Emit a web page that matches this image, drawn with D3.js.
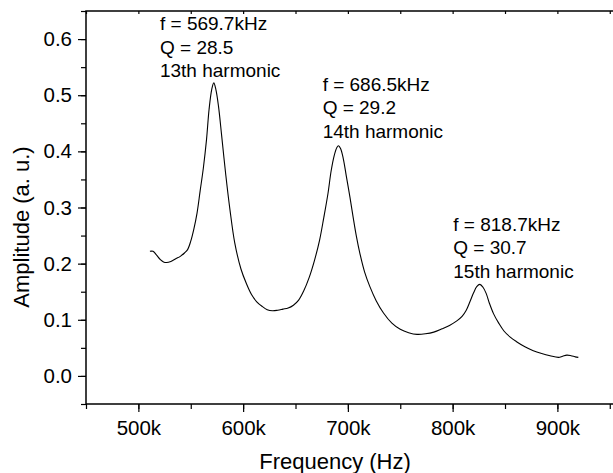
<!DOCTYPE html>
<html>
<head>
<meta charset="utf-8">
<script src="https://cdn.jsdelivr.net/npm/d3@7"></script>
<style>
  body { margin: 0; background: #fff; }
  svg text { font-family: Arial, "Liberation Sans", sans-serif; fill: #000; }
</style>
</head>
<body>
<div class="chart"></div>
<script>
/* Resonance spectrum: amplitude vs frequency, three harmonics. */

// frequency in kHz, amplitude in a.u.
var freq = [511, 514, 517, 521, 524, 527, 531, 536, 540, 544, 547, 550, 553, 556, 559, 562, 565, 567.5, 570, 572,
  574, 576.5, 579.5, 583.5, 587.5, 592, 598, 603, 608, 613, 618, 623, 628, 633, 638, 643, 648, 653, 658, 663,
  668, 673, 677, 681, 684, 687, 689.5, 691, 693, 695.5, 698.5, 702, 705, 708, 711.5, 716, 721, 727, 734, 742,
  750, 758, 766, 774, 782, 790, 797, 804, 809, 813, 816.5, 820, 823, 826, 829, 832, 835, 839, 844, 849,
  855, 861, 869, 877, 885, 893, 901, 905, 909, 913, 917, 920];
var amp = [0.222, 0.222, 0.216, 0.207, 0.203, 0.202, 0.204, 0.209, 0.213, 0.219, 0.225, 0.240, 0.262, 0.290, 0.330, 0.370, 0.420, 0.475, 0.510, 0.522,
  0.510, 0.480, 0.428, 0.357, 0.295, 0.237, 0.190, 0.165, 0.145, 0.132, 0.124, 0.118, 0.116, 0.117, 0.119, 0.121, 0.126, 0.135, 0.152, 0.175,
  0.205, 0.242, 0.282, 0.325, 0.365, 0.393, 0.407, 0.410, 0.405, 0.388, 0.356, 0.318, 0.283, 0.250, 0.218, 0.185, 0.159, 0.134, 0.112, 0.094,
  0.083, 0.077, 0.074, 0.075, 0.078, 0.084, 0.090, 0.098, 0.106, 0.117, 0.132, 0.148, 0.159, 0.163, 0.158, 0.147, 0.130, 0.111, 0.094, 0.080,
  0.069, 0.061, 0.052, 0.045, 0.040, 0.036, 0.033, 0.035, 0.037, 0.036, 0.034, 0.033];

var xTicks = [500, 600, 700, 800, 900];
var xTickLabels = ["500k", "600k", "700k", "800k", "900k"];
var yTicks = [0.0, 0.1, 0.2, 0.3, 0.4, 0.5, 0.6];

// annotation text blocks, anchored at (kHz, amplitude) of the first line
var noteFreq = [520.6, 675.9, 800.6];
var noteAmp = [0.616, 0.508, 0.259];
var noteLines = [
  ["f = 569.7kHz", "Q = 28.5", "13th harmonic"],
  ["f = 686.5kHz", "Q = 29.2", "14th harmonic"],
  ["f = 818.7kHz", "Q = 30.7", "15th harmonic"]
];

drawChart();

function drawChart() {

  var width = 613, height = 473;
  var left = 86, right = 615, top = 11, bottom = 404;

  var svg = d3.select(".chart")
      .append("svg")
      .attr("width", width)
      .attr("height", height);

  var x = d3.scaleLinear().domain([450, 955]).range([left, right]);
  var y = d3.scaleLinear().domain([-0.05, 0.65]).range([bottom, top]);

  var minorX = d3.range(450, 956, 50);
  var minorY = d3.range(-0.05, 0.651, 0.05);

  // bottom axis
  svg.append("g")
    .attr("transform", "translate(0," + bottom + ")")
    .call(d3.axisBottom(x).tickValues(minorX).tickSize(5).tickFormat(""))
    .call(g => g.select(".domain").remove());
  svg.append("g")
    .attr("class", "xaxis")
    .attr("transform", "translate(0," + bottom + ")")
    .call(d3.axisBottom(x).tickValues(xTicks).tickSize(8).tickPadding(8)
      .tickFormat((d, i) => xTickLabels[i]))
    .call(g => g.select(".domain").remove());

  // left axis
  svg.append("g")
    .attr("transform", "translate(" + left + ",0)")
    .call(d3.axisLeft(y).tickValues(minorY).tickSize(5).tickFormat(""))
    .call(g => g.select(".domain").remove());
  svg.append("g")
    .attr("class", "yaxis")
    .attr("transform", "translate(" + left + ",0)")
    .call(d3.axisLeft(y).tickValues(yTicks).tickSize(8).tickPadding(6).tickFormat(d3.format(".1f")))
    .call(g => g.select(".domain").remove());

  // top axis, small inward ticks
  svg.append("g")
    .attr("transform", "translate(0," + top + ")")
    .call(d3.axisBottom(x).tickValues(minorX).tickSize(3).tickFormat(""))
    .call(g => g.select(".domain").remove());

  svg.selectAll(".xaxis text, .yaxis text")
    .style("font-size", "20.5px")
    .style("font-family", "Arial, 'Liberation Sans', sans-serif");
  svg.selectAll(".tick line").attr("stroke", "#000").attr("stroke-width", 1.2);

  // frame lines
  svg.append("path")
    .attr("d", "M" + right + "," + top + "H" + left + "V" + bottom + "H" + right)
    .attr("fill", "none")
    .attr("stroke", "#000")
    .attr("stroke-width", 1.5);

  // curve
  var pts = freq.map((f, i) => [f, amp[i]]);
  var line = d3.line()
    .x(d => x(d[0]))
    .y(d => y(d[1]))
    .curve(d3.curveCatmullRom.alpha(0.5));

  svg.append("path")
    .datum(pts)
    .attr("d", line)
    .attr("fill", "none")
    .attr("stroke", "#000")
    .attr("stroke-width", 1.1);

  // annotations
  noteLines.forEach(function (lines, k) {
    var t = svg.append("text")
      .attr("x", x(noteFreq[k]))
      .attr("y", y(noteAmp[k]))
      .style("font-size", "19px");
    lines.forEach(function (s, j) {
      t.append("tspan")
        .attr("x", x(noteFreq[k]))
        .attr("dy", j === 0 ? 0 : 23.5)
        .text(s);
    });
  });

  // axis titles
  svg.append("text")
    .attr("x", 335)
    .attr("y", 469)
    .attr("text-anchor", "middle")
    .style("font-size", "22px")
    .text("Frequency (Hz)");

  svg.append("text")
    .attr("transform", "translate(29,227) rotate(-90)")
    .attr("text-anchor", "middle")
    .style("font-size", "22px")
    .text("Amplitude (a. u.)");
}
</script>
</body>
</html>
